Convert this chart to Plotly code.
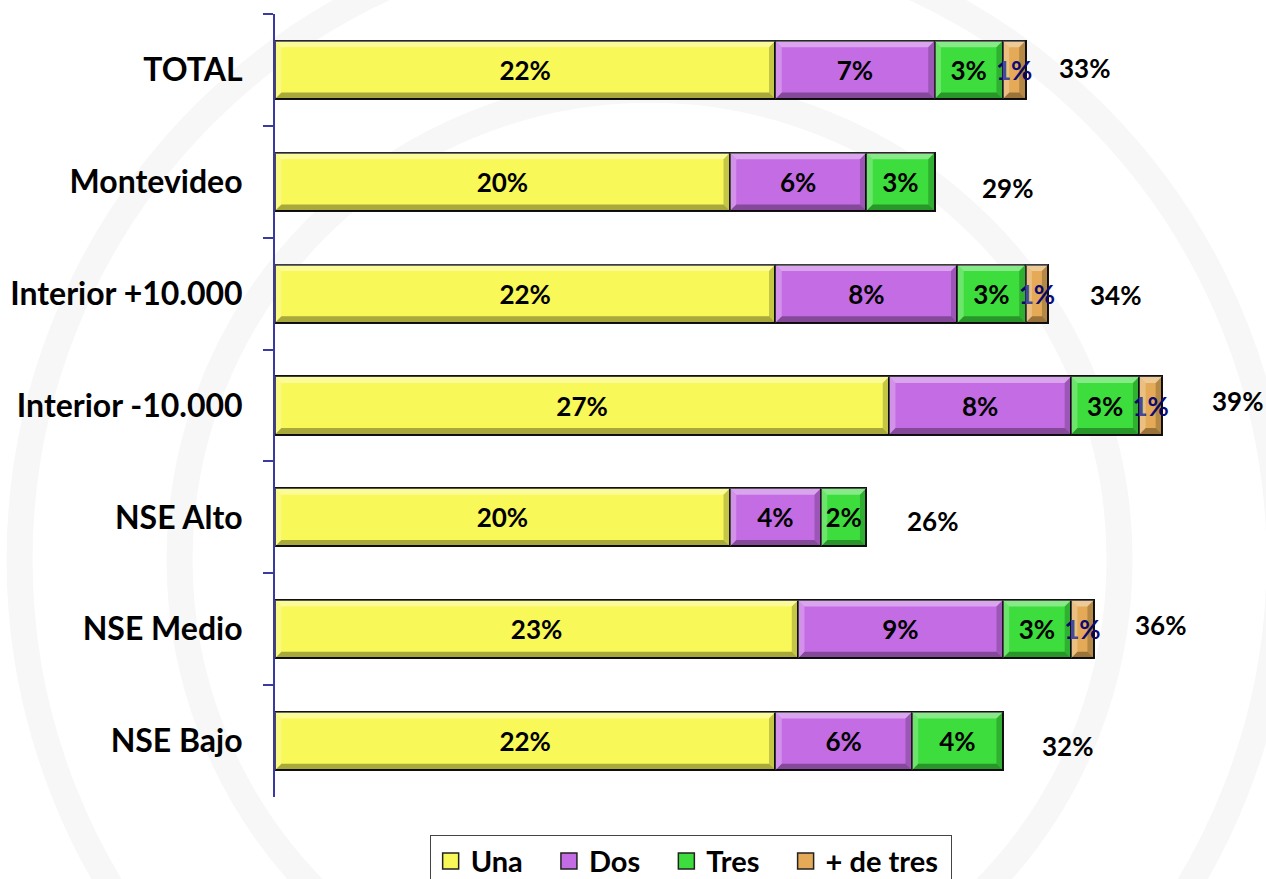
import plotly.graph_objects as go

# Share of respondents by number of items, per segment (%)
categories = ["TOTAL", "Montevideo", "Interior +10.000", "Interior -10.000",
              "NSE Alto", "NSE Medio", "NSE Bajo"]
series_names = ["Una", "Dos", "Tres", "+ de tres"]
una = [22, 20, 22, 27, 20, 23, 22]
dos = [7, 6, 8, 8, 4, 9, 6]
tres = [3, 3, 3, 3, 2, 3, 4]
mas_de_tres = [1, 0, 1, 1, 0, 1, 0]
totals = [33, 29, 34, 39, 26, 36, 32]

series_values = [una, dos, tres, mas_de_tres]
fill_colors = ["#F8F858", "#C46CE4", "#3DDD3D", "#E4AA57"]
label_colors = ["#000000", "#000000", "#000000", "#0B0B78"]

# hand-placed nudges (px) for the total labels
total_dx = [59, 73, 67, 75, 66, 67, 65]
total_dy = [2, -6, -1, 5, -4, 4, -5]

FONT = "Lato"
BAR_WIDTH = 0.52
AXIS_BLUE = "#3A3AA0"
LEGEND_PAD = "\u00a0\u00a0\u00a0"

fig = go.Figure()

# stacked bars, one trace per series
for name, vals, col, lcol in zip(series_names, series_values, fill_colors, label_colors):
    fig.add_trace(go.Bar(
        y=categories, x=vals, orientation="h", name=name,
        marker=dict(color=col, line=dict(color="#111111", width=2)),
        text=[f"{v}%" if v else "" for v in vals],
        textposition="inside", insidetextanchor="middle", textangle=0,
        constraintext="none", cliponaxis=False,
        textfont=dict(family=FONT, size=26, color=lcol, weight="bold"),
        showlegend=False, hoverinfo="skip",
    ))

# legend entries with larger square swatches
for k, (name, col) in enumerate(zip(series_names, fill_colors)):
    label = name + (LEGEND_PAD if k < len(series_names) - 1 else "\u00a0")
    fig.add_trace(go.Scatter(
        x=[None], y=[None], mode="markers", name=label,
        marker=dict(symbol="square", size=16, color=col,
                    line=dict(color="#222222", width=1.5)),
    ))

# bevelled edges on each segment
shapes = []
dy = 0.058
dx_max = 0.28
for s_idx, vals in enumerate(series_values):
    for i, v in enumerate(vals):
        if not v:
            continue
        x0 = sum(series_values[k][i] for k in range(s_idx))
        x1 = x0 + v
        dx = min(dx_max, v / 2)
        yt, yb = i - BAR_WIDTH / 2, i + BAR_WIDTH / 2
        polys = [
            ([(x0, yt), (x1, yt), (x1 - dx, yt + dy), (x0 + dx, yt + dy)], "rgba(255,255,255,0.38)"),
            ([(x0, yb), (x1, yb), (x1 - dx, yb - dy), (x0 + dx, yb - dy)], "rgba(0,0,0,0.32)"),
            ([(x0, yt), (x0 + dx, yt + dy), (x0 + dx, yb - dy), (x0, yb)], "rgba(255,255,255,0.25)"),
            ([(x1, yt), (x1 - dx, yt + dy), (x1 - dx, yb - dy), (x1, yb)], "rgba(0,0,0,0.2)"),
        ]
        for pts, c in polys:
            path = "M " + " L ".join(f"{px},{py}" for px, py in pts) + " Z"
            shapes.append(dict(type="path", path=path, xref="x", yref="y",
                               fillcolor=c, line=dict(width=0), layer="above"))

# faint circular watermark
for r in (630, 470):
    shapes.append(dict(type="circle", xref="paper", yref="paper",
                       xsizemode="pixel", ysizemode="pixel",
                       xanchor=0.383, yanchor=0.303,
                       x0=-r, x1=r, y0=-r, y1=r,
                       line=dict(color="#F7F7F7", width=26), layer="below"))

# totals to the right of each bar
annotations = []
for cat, tot, ddx, ddy in zip(categories, totals, total_dx, total_dy):
    annotations.append(dict(
        x=tot, y=cat, xref="x", yref="y", text=f"{tot}%", showarrow=False,
        xanchor="center", xshift=ddx, yshift=ddy,
        font=dict(family=FONT, size=26, color="#000000", weight="bold"),
    ))

fig.update_layout(
    barmode="stack", bargap=1 - BAR_WIDTH,
    width=1266, height=879,
    margin=dict(l=275, r=13, t=14, b=82, autoexpand=False),
    paper_bgcolor="#FFFFFF", plot_bgcolor="rgba(0,0,0,0)",
    shapes=shapes, annotations=annotations,
    font=dict(family=FONT),
    legend=dict(
        orientation="h", traceorder="normal",
        x=0.425, xanchor="center", y=-0.048, yanchor="top",
        font=dict(family=FONT, size=29, color="#000000", weight="bold"),
        bordercolor="#444444", borderwidth=1, bgcolor="#FFFFFF",
    ),
    xaxis=dict(range=[0, 43], visible=False, fixedrange=True),
    yaxis=dict(
        type="category", categoryorder="array", categoryarray=categories,
        range=[6.5, -0.5], tickson="boundaries",
        ticks="outside", ticklen=10, tickwidth=2, tickcolor=AXIS_BLUE,
        showline=True, linecolor=AXIS_BLUE, linewidth=2,
        showgrid=False, zeroline=False,
        tickfont=dict(family=FONT, size=32, color="#000000", weight="bold"),
        ticklabelstandoff=24,
    ),
)

fig.write_html("out.html")
